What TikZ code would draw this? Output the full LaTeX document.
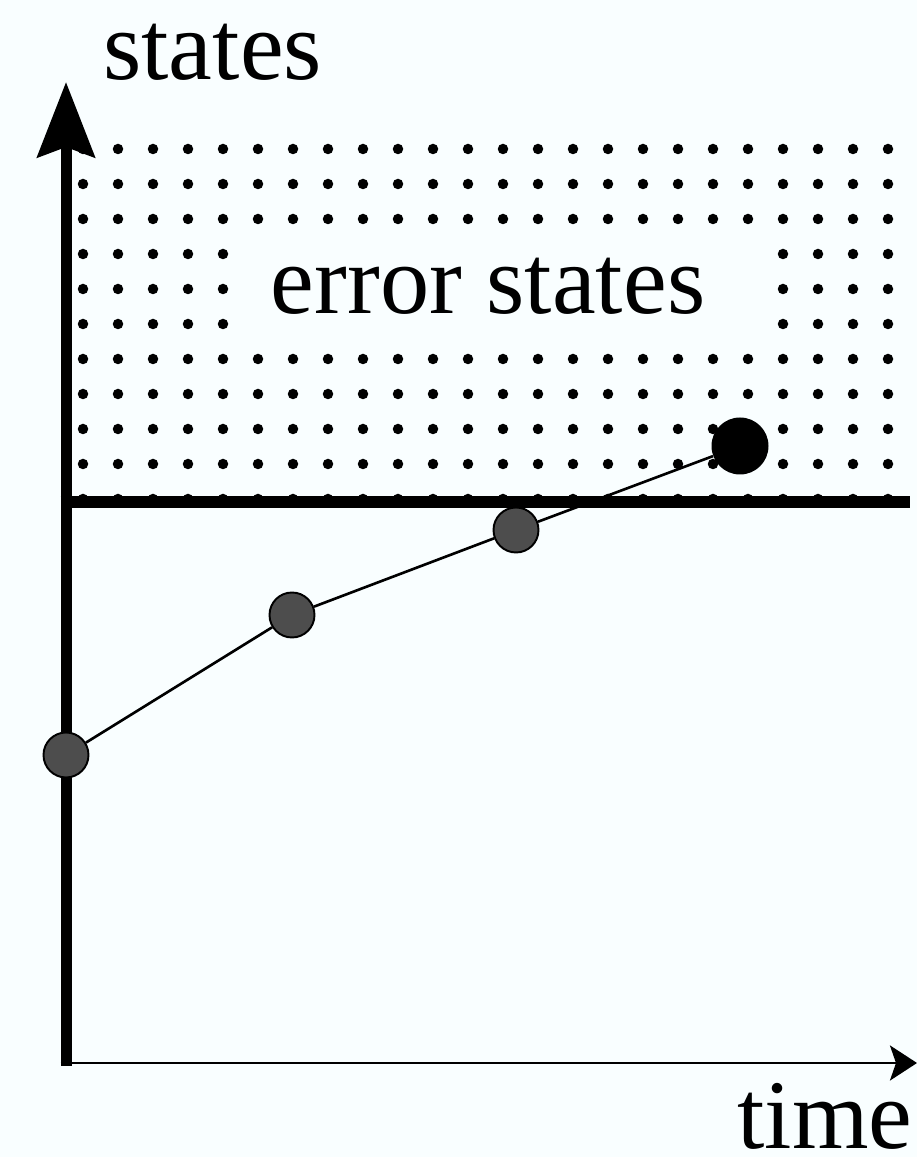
\documentclass[tikz,border=0pt]{standalone}
\usepackage{fontspec}
\setmainfont{Liberation Serif}
\usetikzlibrary{arrows.meta}
\definecolor{paperwhite}{RGB}{249, 254, 255}
\definecolor{stategray}{RGB}{77, 77, 77}
\tikzset{
  state/.style={circle, draw=black, line width=1.1pt, fill=stategray, minimum size=0.9cm, inner sep=0pt},
  errstate/.style={circle, fill=black, minimum size=1.14cm, inner sep=0pt},
  bigtext/.style={inner sep=0pt, anchor=base west, font=\fontsize{56}{60}\selectfont},
}
\begin{document}
\begin{tikzpicture}
            \fill[paperwhite] (0,0) rectangle (18.34,23.14);
            \useasboundingbox (0,0) rectangle (18.34,23.14);

            % Dotted region of error states
            \foreach \i in {0,...,23}
                \foreach \j in {0,...,10}
                    \fill (1.66+0.7*\i, 20.16-0.7*\j) circle (0.105);
            \fill[paperwhite] (4.96,16.14) rectangle (15.14,18.44);
            \node[bigtext] (errlabel) at (5.41,16.86) {error states};

            % Axes
            \coordinate (yfoot) at (1.32,1.82);
            \coordinate (ytop) at (1.32,21.5);
            \coordinate (xfoot) at (1.21,1.88);
            \coordinate (xend) at (18.34,1.88);
            \draw[line width=0.22cm, -{Stealth[length=1.5cm, width=1.14cm, inset=0.2cm]}] (yfoot) -- (ytop);
            \draw[line width=1.7pt, -{Stealth[length=0.54cm, width=0.7cm, inset=0.12cm]}] (xfoot) -- (xend);
            \node[bigtext] (ylabel) at (2.06,21.54) {states};
            \node[bigtext] (xlabel) at (14.74,0.18) {time};

            % Border of error states
            \coordinate (borderl) at (1.21,13.1);
            \coordinate (borderr) at (18.2,13.1);
            \draw[line width=0.24cm] (borderl) -- (borderr);

            % Run of the system
            \node[state] (s1) at (1.32,8.04) {};
            \node[state] (s2) at (5.84,10.84) {};
            \node[state] (s3) at (10.32,12.54) {};
            \node[errstate] (s4) at (14.8,14.22) {};
            \draw[line width=1.5pt] (s1) -- (s2) -- (s3) -- (s4);
        \end{tikzpicture}
\end{document}
